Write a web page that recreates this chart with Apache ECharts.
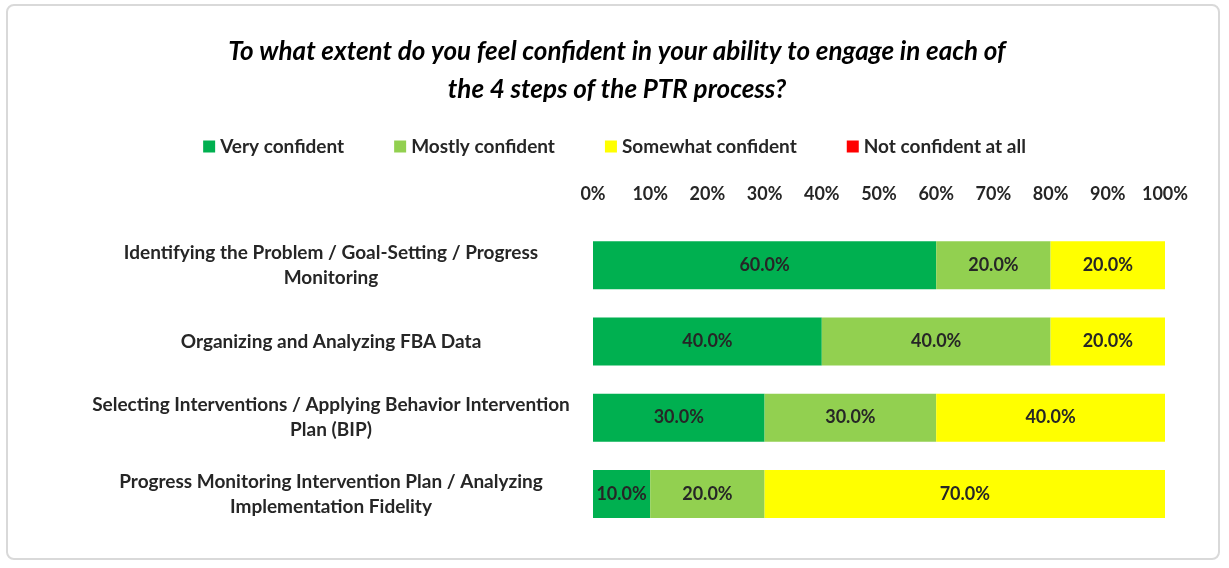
<!DOCTYPE html>
<html>
<head>
<meta charset="utf-8">
<title>PTR confidence</title>
<script src="https://cdn.jsdelivr.net/npm/echarts@6/dist/echarts.min.js"></script>
<style>
body{margin:0;background:#fff;}
#frame{position:absolute;left:6px;top:4px;width:1214px;height:556px;border:2px solid #d9d9d9;border-radius:8px;box-sizing:border-box;}
#main{position:absolute;left:0;top:0;width:1229px;height:568px;}
</style>
</head>
<body>
<div id="frame"></div>
<div id="main"></div>
<script>
var categories = ["Identifying the Problem / Goal-Setting / Progress\nMonitoring","Organizing and Analyzing FBA Data","Selecting Interventions / Applying Behavior Intervention\nPlan (BIP)","Progress Monitoring Intervention Plan / Analyzing\nImplementation Fidelity"];
var seriesNames = ["Very confident","Mostly confident","Somewhat confident","Not confident at all"];
var veryConfident = [60,40,30,10];
var mostlyConfident = [20,40,30,20];
var somewhatConfident = [20,20,40,70];
var notConfident = [0,0,0,0];
var colors = ['#00b050','#92d050','#ffff00','#ff0000'];

var myChart = echarts.init(document.getElementById('main'));
var font = 'Lato';
var allData = [veryConfident,mostlyConfident,somewhatConfident,notConfident];
var series = [];
for (var i=0;i<4;i++){
	series.push({
		name: seriesNames[i],
		type: 'bar',
		stack: 'total',
		barWidth: 48,
		itemStyle: {color: colors[i]},
		label: {
			show: true,
			position: 'inside',
			color: '#262626',
			fontFamily: font,
			fontWeight: 'bold',
			fontSize: 18,
			formatter: function(p){ return p.value > 0 ? p.value.toFixed(1)+'%' : ''; }
		},
		data: allData[i]
	});
}
var option = {
	animation: false,
	textStyle: {fontFamily: font},
	title: {
		text: 'To what extent do you feel confident in your ability to engage in each of\nthe 4 steps of the PTR process?',
		left: 612, top: 28, textAlign: 'center',
		textStyle: {fontFamily: font, fontStyle: 'italic', fontWeight: 'bold', fontSize: 26, lineHeight: 38, color: '#000'}
	},
	legend: {
		top: 132, left: 'center', itemGap: 50,
		itemWidth: 12, itemHeight: 12, icon: 'rect',
		textStyle: {fontFamily: font, fontWeight: 'bold', fontSize: 19, color: '#262626'},
		data: seriesNames
	},
	grid: {left: 593, right: 64, top: 227, bottom: 36},
	xAxis: {
		type: 'value', position: 'top', min: 0, max: 100, interval: 10,
		axisLine: {show: false}, axisTick: {show: false}, splitLine: {show: false},
		axisLabel: {formatter: '{value}%', fontFamily: font, fontWeight: 'bold', fontSize: 18, color: '#262626', margin: 24}
	},
	yAxis: {
		type: 'category', inverse: true, data: categories,
		axisLine: {show: false}, axisTick: {show: false},
		axisLabel: {fontFamily: font, fontWeight: 'bold', fontSize: 19, color: '#262626', align: 'center', margin: 262, lineHeight: 25}
	},
	series: series
};
myChart.setOption(option);
</script>
</body>
</html>
